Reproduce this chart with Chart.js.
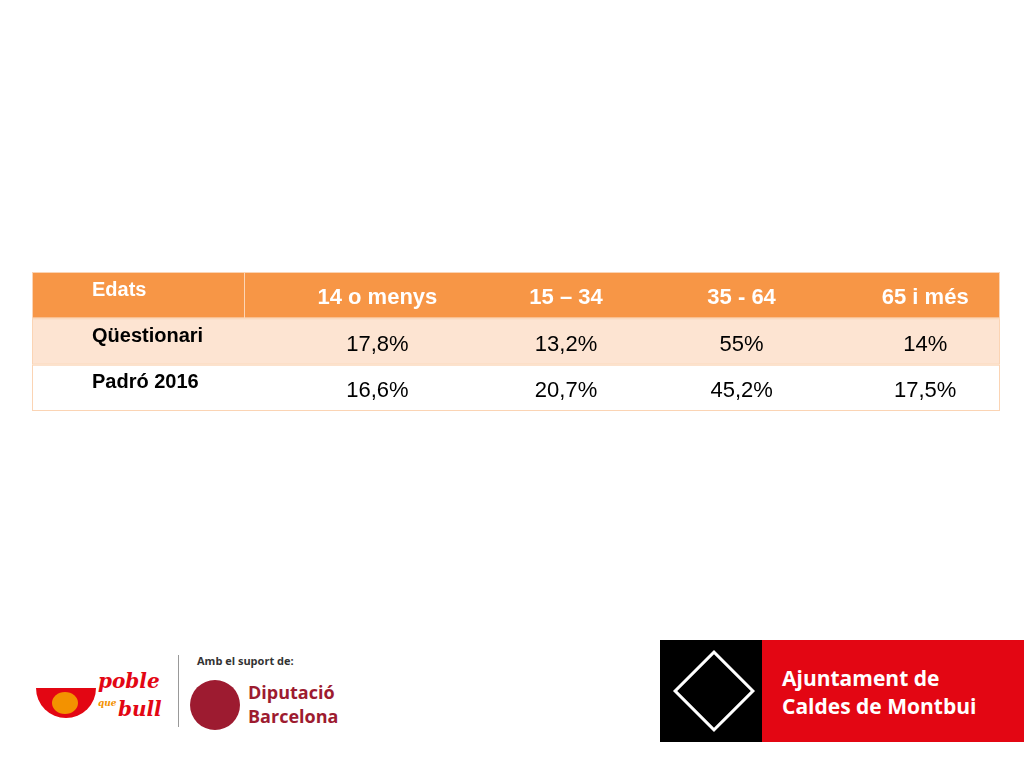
<!DOCTYPE html>
<html>
<head>
<meta charset="utf-8">
<script src="https://cdn.jsdelivr.net/npm/chart.js@4"></script>
<style>
  body { margin:0; width:1024px; height:768px; background:#fff; position:relative; overflow:hidden; font-family:Arial, "Liberation Sans", sans-serif; }
  #wrap { position:absolute; left:32px; top:272px; width:968px; height:139px; }
  .abs { position:absolute; }
</style>
</head>
<body>
<div id="wrap"><canvas id="tableChart"></canvas></div>

<!-- footer logos -->
<div class="abs" style="left:34px;top:650px;width:130px;height:80px;">
  <div class="abs" style="left:2px;top:38px;width:60px;height:30px;border-radius:0 0 30px 30px;background:#e30613;"></div>
  <div class="abs" style="left:18px;top:42px;width:26px;height:22px;border-radius:50%;background:#f39200;"></div>
  <div class="abs" style="left:64px;top:20px;font:italic bold 20px 'DejaVu Serif',serif;color:#e30613;line-height:22px;">poble</div>
  <div class="abs" style="left:64px;top:48px;font:italic bold 9px 'DejaVu Serif',serif;color:#f39200;line-height:10px;">que</div>
  <div class="abs" style="left:84px;top:48px;font:italic bold 20px 'DejaVu Serif',serif;color:#e30613;line-height:22px;">bull</div>
</div>
<div class="abs" style="left:178px;top:655px;width:1px;height:72px;background:#999;"></div>
<div class="abs" style="left:197px;top:653px;font:bold 11px 'Open Sans',sans-serif;color:#333;">Amb el suport de:</div>
<div class="abs" style="left:190px;top:680px;width:50px;height:50px;border-radius:50%;background:#9d1b30;"></div>
<div class="abs" style="left:248px;top:680px;font:bold 18px 'Open Sans',sans-serif;color:#9d1b30;line-height:24px;">Diputació<br>Barcelona</div>

<div class="abs" style="left:660px;top:640px;width:102px;height:102px;background:#000;"></div>
<div class="abs" style="left:685px;top:662px;width:52px;height:52px;border:3px solid #fff;transform:rotate(45deg);"></div>
<div class="abs" style="left:762px;top:640px;width:262px;height:102px;background:#e30613;"></div>
<div class="abs" style="left:782px;top:664px;font:bold 21px 'Open Sans',sans-serif;color:#fff;line-height:28px;">Ajuntament de<br>Caldes de Montbui</div>

<script>
// table contents
const columns = ['Edats', '14 o menys', '15 – 34', '35 - 64', '65 i més'];
const rowLabels = ['Qüestionari', 'Padró 2016'];
const questionari = ['17,8%', '13,2%', '55%', '14%'];
const padro = ['16,6%', '20,7%', '45,2%', '17,5%'];
const rows = ['header', 'Qüestionari', 'Padró 2016'];
const rowValues = [questionari, padro];

// horizontal text nudges per column (style only)
const nudge = [0, 60, 55, 37, 27];

const tablePlugin = {
  id: 'tablePlugin',
  afterDraw(chart) {
    const ctx = chart.ctx;
    const x = chart.scales.x, y = chart.scales.y;
    const bh = y.height / rows.length;
    ctx.save();
    rows.forEach((r, ri) => {
      const cy = y.getPixelForValue(ri);
      const top = cy - bh / 2;
      ctx.fillStyle = ri == 0 ? '#f79646' : (ri == 1 ? '#fde4d2' : '#ffffff');
      ctx.fillRect(x.left, top, x.width, bh);
      ctx.strokeStyle = '#fbd4b4';
      ctx.lineWidth = 1;
      ctx.strokeRect(x.left + 0.5, top + 0.5, x.width - 1, bh - 1);
      if (ri == 0) {
        ctx.fillStyle = '#fcd5b5';
        ctx.fillRect(x.left + 212, top, 1, bh);
      }
      columns.forEach((c, ci) => {
        const cx = x.getPixelForValue(ci) + nudge[ci];
        const color = ri == 0 ? '#fff' : '#000';
        ctx.fillStyle = color; ctx.textBaseline = 'middle';
        if (ci == 0) {
          ctx.font = 'bold 20px Arial, "Liberation Sans"';
          ctx.textAlign = 'left';
          ctx.fillText(ri == 0 ? c : rowLabels[ri - 1], x.left + 60, cy - 5);
        } else {
          ctx.font = ri == 0 ? 'bold 22px Arial, "Liberation Sans"' : '22px Arial, "Liberation Sans"';
          ctx.textAlign = 'center';
          ctx.fillText(ri == 0 ? c : rowValues[ri - 1][ci - 1], cx - 5, cy + 3);
        }
      });
    });
    ctx.restore();
  }
};

new Chart(document.getElementById('tableChart'), {
  type: 'bar',
  data: { labels: columns, datasets: [{ data: [] }] },
  options: {
    responsive: true,
    maintainAspectRatio: false,
    animation: false,
    layout: { padding: 0 },
    plugins: { legend: { display: false }, tooltip: { enabled: false } },
    scales: {
      x: { type: 'category', display: false, offset: true },
      y: { type: 'category', labels: rows, display: false, offset: true }
    }
  },
  plugins: [tablePlugin]
});
</script>
</body>
</html>
